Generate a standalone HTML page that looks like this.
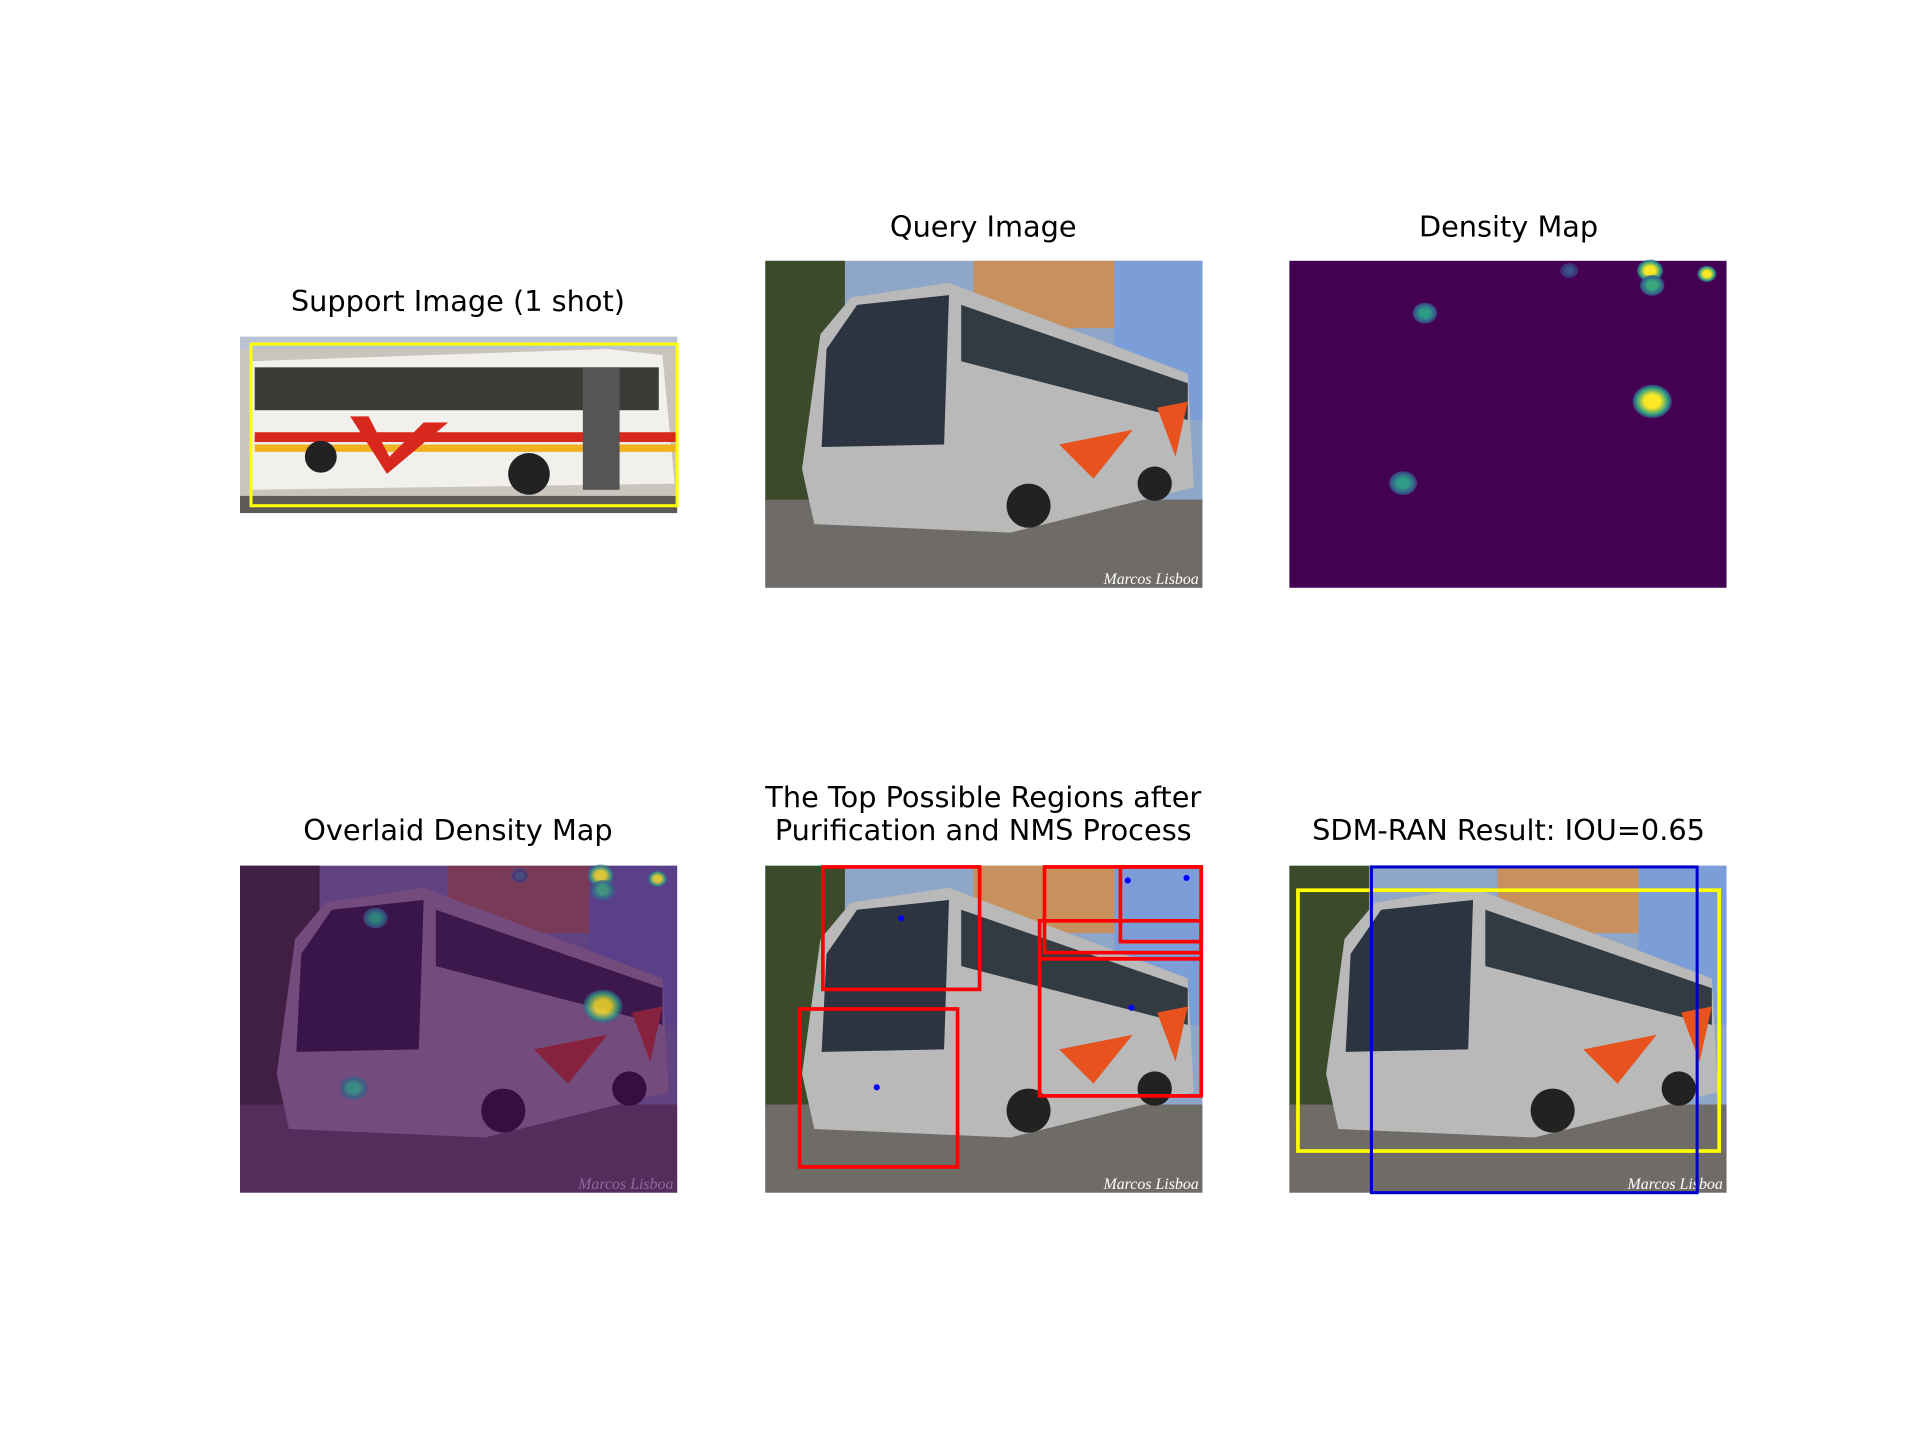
<!DOCTYPE html>
<html><head><meta charset="utf-8"><style>
html,body{margin:0;padding:0;background:#fff;width:1920px;height:1440px;overflow:hidden}
svg{display:block}
text{font-family:"DejaVu Sans","Liberation Sans",sans-serif;fill:#000}
</style></head><body>
<svg width="1920" height="1440" viewBox="0 0 1568 1176">
<defs>
<g id="qphoto">
<rect x="0" y="0" width="357" height="267" fill="#8ea6c8"/>
<rect x="170" y="0" width="120" height="55" fill="#c8905c"/>
<rect x="285" y="0" width="72" height="130" fill="#7c9ed8"/>
<rect x="0" y="0" width="65" height="210" fill="#3c4a2c"/>
<rect x="0" y="195" width="357" height="72" fill="#6f6b66"/>
<polygon points="30,170 45,60 70,30 150,18 345,92 350,185 200,222 40,215" fill="#b9b9b9"/>
<polygon points="50,72 75,36 150,28 146,150 46,152" fill="#2b3440"/>
<polygon points="160,36 345,100 345,130 160,82" fill="#323a42"/>
<polygon points="240,150 300,138 268,178" fill="#e8521f"/>
<polygon points="320,120 345,115 335,160" fill="#e8521f"/>
<circle cx="215" cy="200" r="18" fill="#222"/>
<circle cx="318" cy="182" r="14" fill="#222"/>
<text x="354" y="264" text-anchor="end" font-size="13" font-style="italic" style="font-family:'Liberation Serif',serif;fill:#fff">Marcos Lisboa</text>
</g>
</defs>

<text x="374" y="254" text-anchor="middle" font-size="23.5">Support Image (1 shot)</text>
<text x="803" y="193" text-anchor="middle" font-size="23.5">Query Image</text>
<text x="1232" y="193" text-anchor="middle" font-size="23.5">Density Map</text>
<text x="374" y="686" text-anchor="middle" font-size="23.5">Overlaid Density Map</text>
<text x="803" y="659" text-anchor="middle" font-size="23.5">The Top Possible Regions after</text>
<text x="803" y="686" text-anchor="middle" font-size="23.5">Purification and NMS Process</text>
<text x="1232" y="686" text-anchor="middle" font-size="23.5">SDM-RAN Result: IOU=0.65</text>

<g transform="translate(196,275)">
<rect width="357" height="144" fill="#c9c4bc"/>
<rect width="357" height="10" fill="#b8c4d4"/>
<polygon points="10,20 300,10 345,15 355,120 10,125" fill="#f1f0ec"/>
<rect x="12" y="25" width="330" height="35" fill="#3b3a36"/>
<rect x="12" y="78" width="345" height="8" fill="#d8281e"/>
<rect x="12" y="88" width="345" height="6" fill="#f0b020"/>
<polygon points="90,65 120,112 170,70 150,70 122,98 105,65" fill="#d8281e"/>
<rect x="280" y="25" width="30" height="100" fill="#555"/>
<circle cx="66" cy="98" r="13" fill="#222"/>
<circle cx="236" cy="112" r="17" fill="#222"/>
<rect x="0" y="130" width="357" height="14" fill="#5d5a55"/>
<rect x="9" y="6" width="348" height="132" fill="none" stroke="#ffff00" stroke-width="2.5"/>
</g>

<g transform="translate(625,213)"><use href="#qphoto"/></g>

<g id="density" transform="translate(1053,213)">
<rect width="357" height="267" fill="#440154"/>
</g>

<g id="overlay" transform="translate(196,707)">
<use href="#qphoto"/>
<rect width="357" height="267" fill="#440154" opacity="0.6"/>
</g>

<g transform="translate(625,707)">
<use href="#qphoto"/>
<g fill="none" stroke="#ff0000" stroke-width="3">
<rect x="47" y="1" width="128" height="100"/>
<rect x="28" y="117" width="129" height="129"/>
<rect x="224" y="76" width="132" height="112"/>
<rect x="228" y="1" width="128" height="70"/>
<rect x="290" y="1" width="66" height="61"/>
<rect x="224" y="45" width="132" height="31"/>
</g>
<g fill="#0000ff">
<circle cx="111" cy="43" r="2.5"/><circle cx="91" cy="181" r="2.5"/><circle cx="299" cy="116" r="2.5"/><circle cx="296" cy="12" r="2.5"/><circle cx="344" cy="10" r="2.5"/>
</g>
</g>

<g transform="translate(1053,707)">
<use href="#qphoto"/>
<rect x="7" y="20" width="344" height="213" fill="none" stroke="#ffff00" stroke-width="3"/>
<rect x="67" y="1" width="266" height="266" fill="none" stroke="#0000cc" stroke-width="2.5"/>
</g>

<script>
const blobX=[0.83,0.31,0.26,0.825,0.83,0.955,0.64];
const blobY=[0.43,0.16,0.68,0.03,0.075,0.04,0.03];
const blobR=[0.045,0.028,0.032,0.03,0.028,0.022,0.02];
const blobPeak=[1.0,0.55,0.55,1.0,0.6,1.0,0.25];
const NS="http://www.w3.org/2000/svg";
const W=357,H=267;
function xs(v){return v*W;}
function ys(v){return v*H;}
function viridis(t){
  const c=[[68,1,84],[59,82,139],[33,145,140],[94,201,98],[253,231,37]];
  const p=Math.min(0.999,Math.max(0,t))*4,i=Math.floor(p),f=p-i;
  const a=c[i],b=c[Math.min(4,i+1)];
  return "rgb("+a.map((v,k)=>Math.round(v+(b[k]-v)*f)).join(",")+")";
}
const defs=document.querySelector("defs");
blobX.forEach((bx,i)=>{
  const g=document.createElementNS(NS,"radialGradient");
  g.setAttribute("id","bg"+i);
  [[0,blobPeak[i],1],[0.4,blobPeak[i],1],[0.8,blobPeak[i]*0.55,1],[1,0.3,0.6]].forEach(s=>{
    const st=document.createElementNS(NS,"stop");
    st.setAttribute("offset",s[0]);
    st.setAttribute("stop-color",viridis(s[1]));
    st.setAttribute("stop-opacity",s[2]);
    g.appendChild(st);
  });
  defs.appendChild(g);
});
["density","overlay"].forEach(id=>{
  const host=document.getElementById(id);
  blobX.forEach((bx,i)=>{
    const e=document.createElementNS(NS,"ellipse");
    
    
    e.setAttribute("cx",xs(bx));
    e.setAttribute("cy",ys(blobY[i]));
    e.setAttribute("rx",xs(blobR[i]));
    e.setAttribute("ry",xs(blobR[i])*0.85);
    e.setAttribute("fill","url(#bg"+i+")");
    if(id==="overlay")e.setAttribute("opacity","0.8");
    host.appendChild(e);
  });
});
</script>
</svg>
</body></html>
